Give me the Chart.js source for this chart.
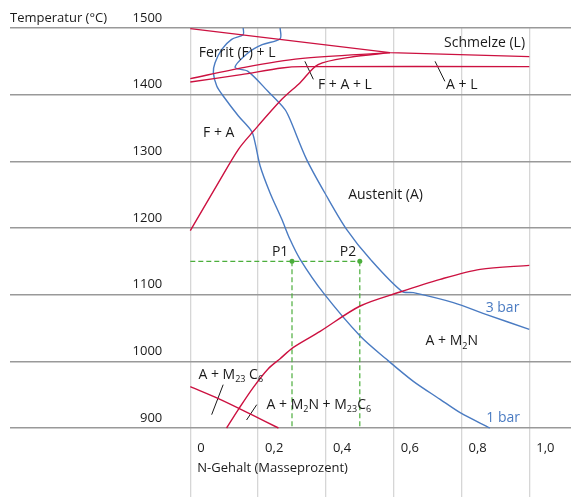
<!DOCTYPE html>
<html>
<head>
<meta charset="utf-8">
<script src="https://cdn.jsdelivr.net/npm/chart.js@4.4.1/dist/chart.umd.min.js"></script>
<style>
  html, body { margin: 0; padding: 0; background: #fff; }
  canvas { display: block; }
</style>
</head>
<body>
<canvas id="chart" width="571" height="497"></canvas>
<script>
// ticks
const xTicks      = [0, 0.2, 0.4, 0.6, 0.8, 1.0];
const xTickLabels = ['0', '0,2', '0,4', '0,6', '0,8', '1,0'];
const yTicks      = [900, 1000, 1100, 1200, 1300, 1400, 1500];

// phase boundaries, [N-Gehalt, Temperatur]
const liquidus   = [[0, 1499], [0.589, 1463], [1.0, 1457]];
const ferritL    = [[0, 1424], [0.16, 1441], [0.324, 1454], [0.589, 1463]];
const austenitL  = [[0, 1419], [0.15, 1430], [0.27, 1440], [0.33, 1442], [1.0, 1442]];
const ferritA    = [[0, 1196], [0.083, 1268], [0.142, 1318], [0.186, 1345], [0.27, 1393],
                    [0.324, 1418], [0.377, 1445], [0.47, 1456], [0.589, 1463]];
const m2nSolvus  = [[0.107, 900], [0.142, 928], [0.186, 961], [0.23, 989], [0.265, 1004],
                    [0.304, 1021], [0.383, 1045], [0.501, 1083], [0.619, 1104], [0.737, 1123],
                    [0.855, 1138], [1.0, 1144]];
const m23c6      = [[0, 962], [0.083, 944], [0.181, 920], [0.26, 900]];

// nitrogen solubility at 1 bar and 3 bar
const bar1 = [[0.156, 1500], [0.156, 1490], [0.122, 1483], [0.093, 1468], [0.073, 1448],
              [0.068, 1433], [0.078, 1413], [0.097, 1398], [0.142, 1368], [0.181, 1345],
              [0.191, 1328], [0.206, 1293], [0.235, 1253], [0.27, 1213], [0.294, 1183],
              [0.324, 1153], [0.392, 1103], [0.501, 1038], [0.579, 1003], [0.658, 970],
              [0.737, 943], [0.796, 923], [0.884, 900]];
const bar3 = [[0.265, 1500], [0.265, 1484], [0.212, 1475], [0.171, 1463], [0.132, 1441],
              [0.17, 1435], [0.229, 1405], [0.279, 1378], [0.294, 1363], [0.343, 1303],
              [0.402, 1248], [0.461, 1198], [0.531, 1153], [0.624, 1105], [0.658, 1103],
              [0.776, 1088], [0.874, 1070], [1.0, 1048]];

// example points P1, P2 at 1150 °C
const pointsN = [0.3, 0.5];
const pointsT = 1150;

// leader lines for the labels
const leaders = [
  [[0.338, 1450], [0.363, 1423]],
  [[0.722, 1450], [0.751, 1420]],
  [[0.097, 965], [0.063, 920]],
  [[0.196, 935], [0.166, 912]]
];

const RED   = '#cc1140';
const BLUE  = '#4a7bc2';
const GREEN = '#4cae3c';
const TEXT  = '#1a1a1a';
const FONT  = '"Open Sans", sans-serif';

// layout: x=0 sits at 190px, 339px per 1.0 ; 100 °C = 66.7px
const PAD_L = 10, PAD_T = 28;
const X_MIN = -(190.3 - PAD_L) / 339;
const X_MAX = X_MIN + (571 - PAD_L) / 339;
const Y_MAX = 1500;
const Y_MIN = 1500 - (497 - PAD_T) * 1.5;

const pts = arr => arr.map(([x, y]) => ({ x, y }));

function curve(arr, color, extra) {
  return Object.assign({
    data: pts(arr),
    showLine: true,
    borderColor: color,
    borderWidth: 1.4,
    pointRadius: 0,
    tension: 0.3,
    fill: false,
    clip: false
  }, extra || {});
}

const datasets = [
  curve(liquidus, RED, { tension: 0 }),
  curve(ferritL, RED),
  curve(austenitL, RED),
  curve(ferritA, RED),
  curve(m2nSolvus, RED),
  curve(m23c6, RED),
  curve(bar1, BLUE),
  curve(bar3, BLUE),
  curve([[0, pointsT], [pointsN[1], pointsT]], GREEN, { borderDash: [5, 3], tension: 0, borderWidth: 1.2 }),
  ...pointsN.map(n => curve([[n, pointsT], [n, 900]], GREEN, { borderDash: [5, 3], tension: 0, borderWidth: 1.2 })),
  {
    data: pts(pointsN.map(n => [n, pointsT])),
    showLine: false,
    pointRadius: 2.5,
    pointBackgroundColor: GREEN,
    pointBorderWidth: 0,
    clip: false
  },
  ...leaders.map(l => curve(l, TEXT, { tension: 0, borderWidth: 1 }))
];

// texts: parts are [text, subscript?]
const labels = [
  { parts: [['Ferrit (F) + L']], x: 0.138, y: 1463, align: 'center' },
  { parts: [['Schmelze (L)']], x: 0.868, y: 1478, align: 'center' },
  { parts: [['F + A + L']], x: 0.456, y: 1415, align: 'center' },
  { parts: [['A + L']], x: 0.801, y: 1415, align: 'center' },
  { parts: [['F + A']], x: 0.084, y: 1343, align: 'center' },
  { parts: [['Austenit (A)']], x: 0.576, y: 1250, align: 'center' },
  { parts: [['P1']], x: 0.265, y: 1164, align: 'center' },
  { parts: [['P2']], x: 0.465, y: 1164, align: 'center' },
  { parts: [['3 bar']], x: 0.921, y: 1080, align: 'center', color: BLUE },
  { parts: [['1 bar']], x: 0.923, y: 915, align: 'center', color: BLUE },
  { parts: [['A + M'], ['2', 1], ['N']], x: 0.694, y: 1030, align: 'left' },
  { parts: [['A + M'], ['23', 1], [' C'], ['6', 1]], x: 0.024, y: 980, align: 'left' },
  { parts: [['A + M'], ['2', 1], ['N + M'], ['23', 1], ['C'], ['6', 1]], x: 0.225, y: 935, align: 'left' }
];

function drawRich(ctx, parts, px, py, align, color) {
  const big = '14px ' + FONT, small = '9px ' + FONT;
  let w = 0;
  parts.forEach(([t, sub]) => { ctx.font = sub ? small : big; w += ctx.measureText(t).width; });
  let cx = align === 'center' ? px - w / 2 : px;
  ctx.fillStyle = color || TEXT;
  ctx.textAlign = 'left';
  ctx.textBaseline = 'middle';
  parts.forEach(([t, sub]) => {
    ctx.font = sub ? small : big;
    ctx.fillText(t, cx, sub ? py + 5 : py);
    cx += ctx.measureText(t).width;
  });
}

const textPlugin = {
  id: 'texts',
  afterDatasetsDraw(chart) {
    const { ctx, scales: { x, y } } = chart;
    ctx.save();
    const x0 = x.getPixelForValue(0);
    const yBottom = y.getPixelForValue(900);

    // y tick labels, right aligned, above the lines
    ctx.font = '13px ' + FONT;
    ctx.fillStyle = TEXT;
    ctx.textBaseline = 'middle';
    ctx.textAlign = 'right';
    yTicks.forEach(v => ctx.fillText(String(v), x0 - 28, y.getPixelForValue(v) - 10));

    // x tick labels
    ctx.textAlign = 'left';
    xTicks.forEach((v, i) => ctx.fillText(xTickLabels[i], x.getPixelForValue(v) + 7, yBottom + 20));

    // axis titles
    ctx.fillText('Temperatur (°C)', chart.chartArea.left, y.getPixelForValue(1500) - 10);
    ctx.fillText('N-Gehalt (Masseprozent)', x0 + 7, yBottom + 40);

    labels.forEach(l => drawRich(ctx, l.parts, x.getPixelForValue(l.x), y.getPixelForValue(l.y), l.align, l.color));
    ctx.restore();
  }
};

new Chart(document.getElementById('chart'), {
  type: 'scatter',
  data: { datasets },
  options: {
    responsive: false,
    animation: false,
    layout: { autoPadding: false, padding: { left: PAD_L, top: PAD_T, right: 0, bottom: 0 } },
    plugins: { legend: { display: false }, tooltip: { enabled: false } },
    scales: {
      x: {
        type: 'linear', min: X_MIN, max: X_MAX,
        afterBuildTicks: s => { s.ticks = xTicks.map(v => ({ value: v })); },
        afterFit: s => { s.height = 0; s.paddingLeft = 0; s.paddingRight = 0; },
        grid: { color: '#d6d6d6', lineWidth: 1.3, drawTicks: false },
        border: { display: false },
        ticks: { display: false }
      },
      y: {
        type: 'linear', min: Y_MIN, max: Y_MAX,
        afterBuildTicks: s => { s.ticks = yTicks.map(v => ({ value: v })); },
        afterFit: s => { s.width = 0; s.paddingTop = 0; s.paddingBottom = 0; },
        grid: { color: '#999', lineWidth: 1.6, drawTicks: false },
        border: { display: false },
        ticks: { display: false }
      }
    }
  },
  plugins: [textPlugin]
});
</script>
</body>
</html>
